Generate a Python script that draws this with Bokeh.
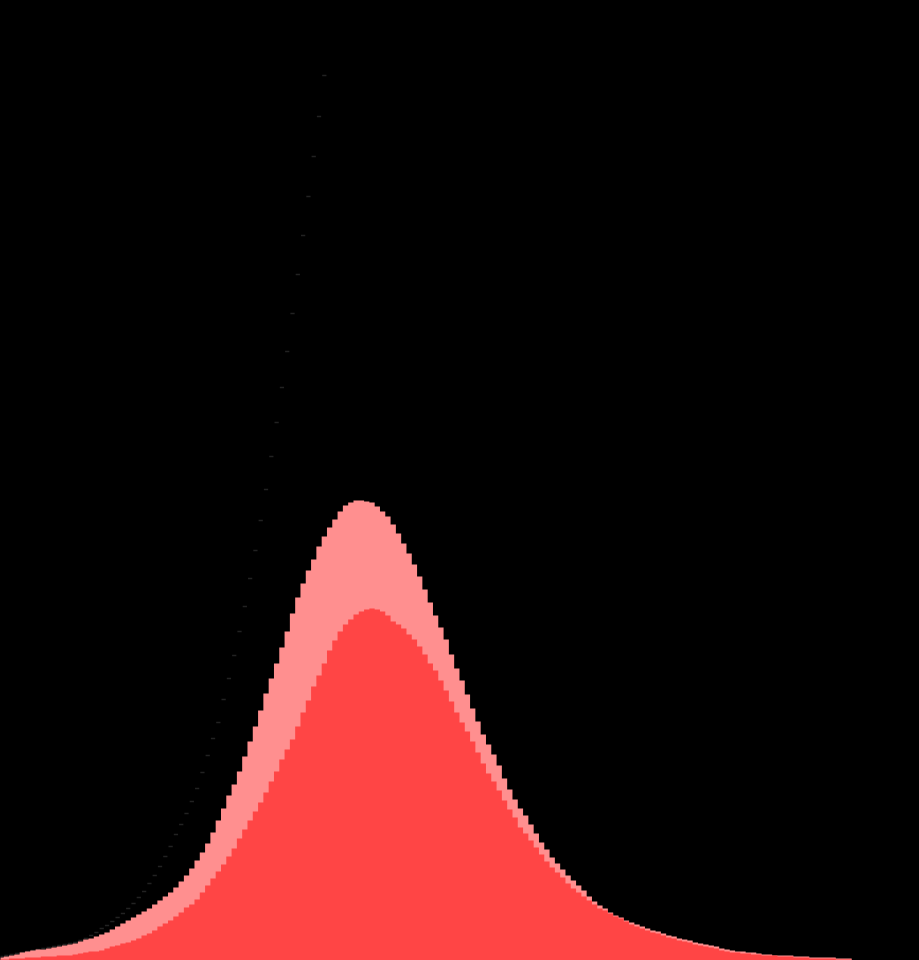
from bokeh.plotting import figure
from bokeh.models import Range1d
from bokeh.embed import file_html
from bokeh.resources import INLINE

# bin index (one bin per step of the histogram)
bins = list(range(174))

# back layer (light pink) heights per bin
pink = [3, 4, 5, 6, 8, 9, 10, 11, 11, 12,
        13, 14, 15, 16, 17, 19, 21, 22, 24, 26,
        28, 31, 34, 37, 40, 43, 46, 49, 52, 56,
        60, 64, 68, 73, 79, 85, 92, 100, 108, 117,
        128, 140, 152, 165, 176, 189, 204, 219, 234, 250,
        267, 282, 297, 313, 329, 347, 363, 377, 390, 401,
        414, 424, 433, 441, 449, 455, 458, 460, 460, 459,
        458, 454, 449, 444, 436, 427, 417, 407, 396, 384,
        371, 358, 345, 333, 321, 306, 292, 280, 266, 252,
        239, 226, 216, 206, 195, 182, 171, 161, 152, 145,
        136, 127, 118, 111, 103, 97, 91, 85, 80, 75,
        70, 64, 59, 55, 52, 48, 45, 43, 40, 38,
        36, 34, 32, 30, 29, 27, 25, 24, 22, 21,
        20, 18, 17, 16, 15, 14, 12, 11, 10, 9,
        9, 8, 8, 7, 6, 6, 5, 5, 5, 5,
        4, 4, 4, 3, 3, 3, 3, 3, 2, 2,
        2, 0, 0, 0, 0, 0, 0, 0, 0, 0,
        0, 0, 0, 0]

# front layer (red) heights per bin
red = [1, 1, 2, 2, 2, 3, 3, 3, 4, 4,
       4, 5, 5, 5, 6, 7, 8, 9, 9, 10,
       12, 14, 15, 17, 18, 20, 22, 25, 27, 30,
       34, 37, 40, 44, 48, 53, 56, 61, 68, 75,
       82, 89, 96, 104, 112, 122, 131, 140, 149, 158,
       168, 179, 189, 201, 211, 221, 234, 248, 260, 274,
       285, 297, 310, 320, 329, 336, 341, 346, 349, 351,
       352, 351, 349, 345, 339, 336, 332, 326, 321, 314,
       306, 297, 290, 280, 270, 259, 248, 238, 229, 219,
       208, 197, 187, 179, 170, 160, 151, 143, 133, 127,
       120, 113, 106, 99, 93, 88, 83, 77, 72, 68,
       64, 60, 56, 52, 50, 47, 44, 42, 39, 36,
       34, 32, 30, 28, 27, 25, 23, 22, 20, 19,
       18, 16, 15, 14, 13, 12, 10, 9, 8, 8,
       7, 7, 6, 6, 5, 5, 5, 4, 4, 4,
       3, 3, 3, 2, 2, 2, 2, 2, 1, 1,
       1, 0, 0, 0, 0, 0, 0, 0, 0, 0,
       0, 0, 0, 0]

# dark layer (near-black) heights, visible part only
dark_bins = list(range(62))
dark = [4, 5, 6, 7, 8, 9, 10, 11, 12, 13,
        14, 15, 16, 17, 18, 20, 22, 25, 28, 32,
        35, 39, 43, 47, 52, 57, 63, 69, 77, 85,
        94, 104, 114, 126, 136, 147, 159, 172, 188, 205,
        222, 238, 261, 282, 305, 329, 354, 382, 410, 440,
        471, 504, 538, 573, 609, 647, 686, 725, 764, 804,
        844, 885]

W, H = 919, 960
p = figure(width=W, height=H, output_backend="svg", toolbar_location=None,
           x_range=Range1d(-0.1, 173.3), y_range=Range1d(0, 960),
           min_border=0, min_border_left=0, min_border_right=0,
           min_border_top=0, min_border_bottom=0)
p.axis.visible = False
p.grid.visible = False
p.outline_line_color = None
p.background_fill_color = "black"
p.border_fill_color = "black"


def step_xy(idx, vals):
    xs = [i - 0.5 for i in idx] + [idx[-1] + 0.5]
    ys = list(vals) + [vals[-1]]
    return xs, ys


dx, dy = step_xy(dark_bins, dark)
p.varea_step(x=dx, y1=[0] * len(dx), y2=dy, step_mode="after", fill_color="#000000")
p.segment(x0=[b - 0.4 for b in dark_bins], x1=[b + 0.4 for b in dark_bins],
          y0=dark, y1=dark, line_color="#222222", line_width=1.5)

px, py = step_xy(bins, pink)
p.varea_step(x=px, y1=[0] * len(px), y2=py, step_mode="after", fill_color="#ff8f8f")

rx, ry = step_xy(bins, red)
p.varea_step(x=rx, y1=[0] * len(rx), y2=ry, step_mode="after", fill_color="#ff4545")

html = file_html(p, INLINE)
html = html.replace("</head>", "<style>html,body{margin:0;padding:0;background:#000;overflow:hidden;}</style></head>", 1)
open("out.html", "w").write(html)
